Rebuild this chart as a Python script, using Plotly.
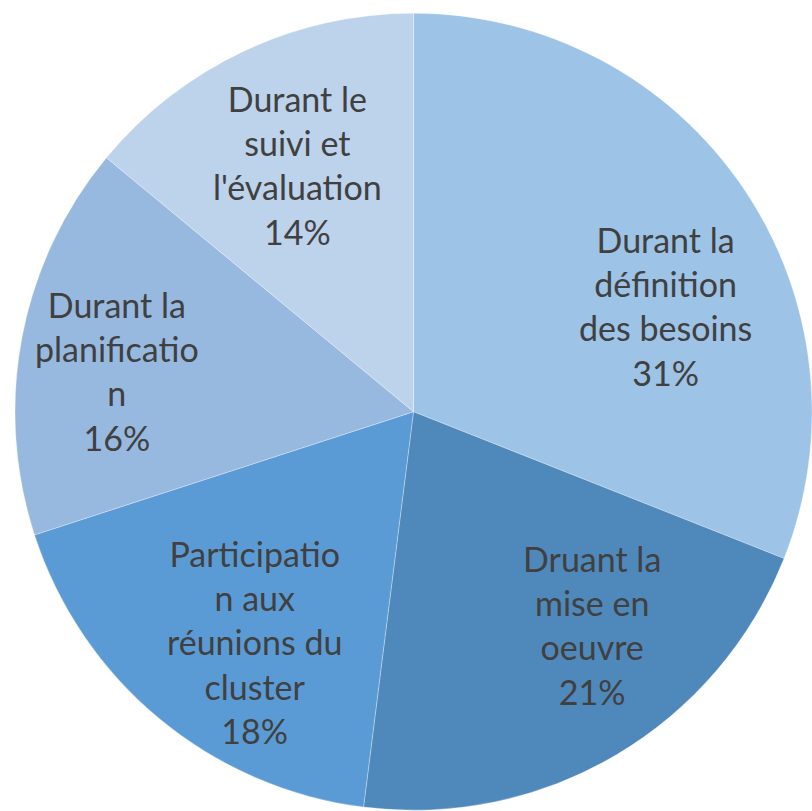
import plotly.graph_objects as go

# data
labels = [
    "Durant la définition des besoins",
    "Druant la mise en oeuvre",
    "Participation aux réunions du cluster",
    "Durant la planification",
    "Durant le suivi et l'évaluation",
]
label_lines = [
    ["Durant la", "définition", "des besoins"],
    ["Druant la", "mise en", "oeuvre"],
    ["Participatio", "n aux", "réunions du", "cluster"],
    ["Durant la", "planificatio", "n"],
    ["Durant le", "suivi et", "l'évaluation"],
]
values = [31, 21, 18, 16, 14]

colors = ["#9DC3E6", "#4F88BB", "#5B9BD5", "#97B9E0", "#BDD2EB"]

W, H = 812, 811

# label block centres in pixels (layout only)
label_px = [(665, 306), (592, 625), (254, 642), (117, 371), (297, 165)]

fig = go.Figure(go.Pie(
    labels=labels,
    values=values,
    sort=False,
    direction="clockwise",
    rotation=0,
    marker=dict(colors=colors, line=dict(color="rgba(255,255,255,0.6)", width=0.5)),
    textinfo="none",
    hoverinfo="label+percent",
    domain=dict(x=[15 / W, 1], y=[0.5 / H, 1 - 13 / H]),
    showlegend=False,
))

total = sum(values)
for lines, v, (px, py) in zip(label_lines, values, label_px):
    txt = "<br>".join(lines + [f"{round(100 * v / total)}%"])
    fig.add_annotation(
        x=px / W, y=1 - py / H, xref="paper", yref="paper",
        text=txt, showarrow=False, xanchor="center", yanchor="middle",
        font=dict(family="Lato, sans-serif", size=34, color="#404040"),
    )

fig.update_layout(
    width=W, height=H,
    margin=dict(l=0, r=0, t=0, b=0),
    paper_bgcolor="white",
    plot_bgcolor="white",
)
# drop the default page margin so the chart sits at the window origin
fig.write_html("out.html",
               config={"displayModeBar": False},
               post_script="document.body.style.margin='0';document.body.style.overflow='hidden';")
